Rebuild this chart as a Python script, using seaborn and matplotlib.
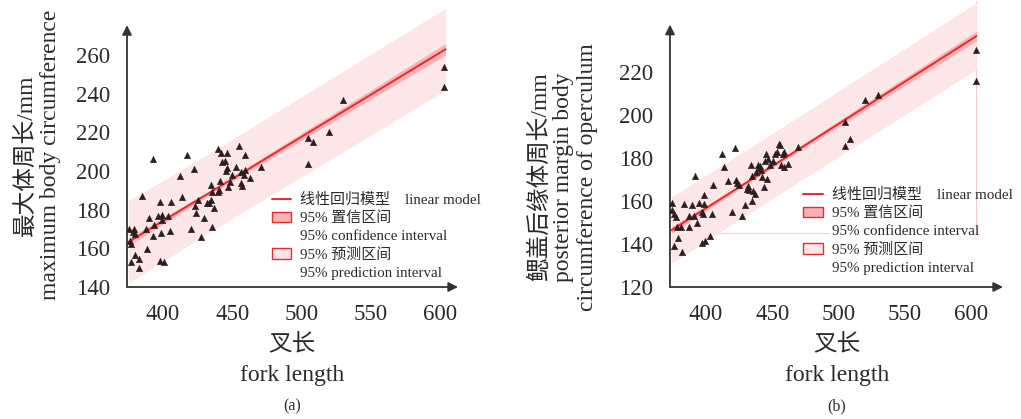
import numpy as np
import pandas as pd
import matplotlib
matplotlib.use("Agg")
import matplotlib.pyplot as plt
from matplotlib.lines import Line2D
from matplotlib.patches import Patch
import seaborn as sns

sns.set_style("white")
plt.rcParams['font.family'] = ['Liberation Serif', 'Noto Sans CJK SC', 'DejaVu Sans']
plt.rcParams['axes.unicode_minus'] = False

# ---------------- data: panel (a) ----------------
fork_a = [375.2, 378.8, 378.0, 380.0, 375.9, 376.6, 379.8, 377.0, 382.7, 383.0,
          384.6, 387.5, 388.4, 390.0, 392.5, 392.5, 393.5, 396.4, 397.6, 398.3,
          398.0, 400.5, 399.5, 399.3, 403.6, 405.3, 406.0, 412.3, 413.7, 417.6,
          420.0, 422.2, 422.9, 423.6, 425.5, 427.5, 429.4, 431.6, 433.0, 434.5,
          434.7, 435.2, 435.4, 436.6, 439.8, 439.5, 440.5, 441.4, 441.9, 442.9,
          444.6, 445.3, 446.0, 446.5, 447.0, 448.2, 450.1, 453.0, 454.5, 456.1,
          456.1, 457.1, 459.5, 459.5, 458.6, 462.7, 470.4, 504.8, 504.8, 508.0,
          519.8, 529.6, 603.1, 603.1]
girth_a = [170.0, 170.2, 168.3, 167.5, 163.7, 162.3, 156.8, 153.0, 154.3, 149.7,
           187.3, 170.0, 159.9, 175.8, 166.4, 206.0, 172.3, 176.6, 184.2, 167.8,
           153.6, 153.0, 177.0, 174.9, 176.6, 169.0, 184.0, 197.3, 186.8, 208.2,
           169.9, 201.0, 182.1, 178.3, 185.0, 165.7, 175.9, 183.7, 183.5, 193.0,
           184.9, 171.3, 189.0, 181.1, 189.2, 211.2, 190.0, 194.9, 209.5, 204.8,
           205.1, 199.8, 209.3, 201.7, 191.8, 194.2, 198.0, 202.3, 212.7, 199.4,
           193.7, 192.2, 208.2, 200.6, 198.2, 196.6, 202.0, 217.0, 203.9, 215.0,
           220.3, 236.7, 254.0, 243.5]
# regression line and bands
band_x_a = [375, 435, 604]
fit_a = [163.3, 189.4, 263.0]
ci_lo_a = [161.3, 188.4, 260.0]
ci_hi_a = [165.3, 190.4, 266.0]
pi_lo_a = [142.1, 169.0, 241.8]
pi_hi_a = [184.5, 209.8, 284.2]

# ---------------- data: panel (b) ----------------
fork_b = [374.3, 374.8, 375.8, 377.3, 375.8, 379.3, 381.9, 378.6, 381.6, 383.9,
          387.0, 387.7, 389.4, 391.9, 391.4, 393.2, 395.2, 396.9, 397.7, 397.5,
          399.0, 399.0, 399.7, 403.0, 405.0, 405.5, 412.1, 413.4, 417.1, 419.9,
          421.7, 422.7, 423.7, 424.7, 427.2, 429.2, 431.0, 431.7, 432.7, 434.8,
          434.8, 434.3, 435.3, 436.8, 438.0, 439.0, 440.0, 440.8, 441.6, 442.6,
          444.1, 444.3, 445.3, 445.8, 446.6, 448.4, 450.9, 452.4, 453.9, 455.4,
          456.2, 456.4, 458.2, 459.0, 459.2, 462.2, 469.8, 504.8, 505.0, 508.3,
          519.9, 529.7, 604.0, 603.8]
girth_b = [158.9, 155.9, 153.8, 152.5, 139.0, 142.6, 136.2, 147.7, 147.7, 158.8,
           153.1, 147.7, 158.0, 171.8, 152.8, 149.7, 159.3, 154.9, 153.8, 140.4,
           158.6, 162.8, 141.5, 143.5, 153.8, 167.6, 181.8, 176.0, 169.3, 155.1,
           184.5, 169.6, 168.5, 167.5, 153.2, 158.2, 165.4, 167.1, 165.1, 160.2,
           171.6, 176.7, 164.8, 163.3, 173.5, 176.7, 175.2, 176.4, 174.4, 171.0,
           166.7, 178.4, 181.7, 170.4, 179.3, 176.9, 178.4, 181.8, 182.6, 186.5,
           186.2, 176.7, 182.0, 182.9, 175.6, 177.3, 184.9, 196.8, 185.7, 188.9,
           207.0, 209.5, 230.4, 215.8]
band_x_b = [374, 435, 604]
fit_b = [146.4, 170.3, 236.7]
ci_lo_b = [144.9, 169.5, 234.4]
ci_hi_b = [147.9, 171.1, 239.0]
pi_lo_b = [130.9, 155.2, 221.2]
pi_hi_b = [161.9, 185.4, 252.2]
# faint guide lines visible in panel (b)
guide_h_x_b = [374, 493]
guide_h_y_b = [145.1, 145.1]
guide_v_x_b = [604, 604]
guide_v_y_b = [145.1, 253]

xticks = [400, 450, 500, 550, 600]
yticks_a = [140, 160, 180, 200, 220, 240, 260]
yticks_b = [120, 140, 160, 180, 200, 220]

legend_labels = ["线性回归模型    linear model", "95% 置信区间", "95% confidence interval",
                 "95% 预测区间", "95% prediction interval"]

RED = "#e8292d"
CI_COL = "#f5b3b5"
PI_COL = "#fde6e7"
PT_COL = "#2b1d20"
AX_COL = "#333333"
TXT_COL = "#2a2a2a"

fig = plt.figure(figsize=(10.21, 4.19), dpi=100)
ax_a = fig.add_axes([0.1244, 0.3150, 0.3242, 0.6735])
ax_b = fig.add_axes([0.6562, 0.3150, 0.3262, 0.6826])


def draw_panel(ax, fx, fy, bx, fit, cil, cih, pil, pih, xlim, ylim, ytop, yticks):
    ax.set_facecolor("none")
    ax.fill_between(bx, pil, pih, color=PI_COL, lw=0, zorder=1)
    ax.fill_between(bx, cil, cih, color=CI_COL, lw=0, zorder=2)
    sns.lineplot(x=bx, y=fit, ax=ax, color=RED, lw=1.4, zorder=3)
    df = pd.DataFrame({"fork": fx, "girth": fy})
    sns.scatterplot(data=df, x="fork", y="girth", ax=ax, marker="^", s=22,
                    color=PT_COL, edgecolor=PT_COL, linewidth=0.3, zorder=4)
    ax.set_xlim(*xlim)
    ax.set_ylim(*ylim)
    for s in ax.spines.values():
        s.set_visible(False)
    ax.annotate("", xy=(xlim[0], ytop), xytext=(xlim[0], ylim[0]),
                xycoords="data", annotation_clip=False,
                arrowprops=dict(arrowstyle="-|>", color=AX_COL, lw=1.3,
                                mutation_scale=14, shrinkA=0, shrinkB=0))
    ax.annotate("", xy=(xlim[1], ylim[0]), xytext=(xlim[0], ylim[0]),
                xycoords="data", annotation_clip=False,
                arrowprops=dict(arrowstyle="-|>", color=AX_COL, lw=1.3,
                                mutation_scale=14, shrinkA=0, shrinkB=0))
    ax.set_xticks(xticks)
    ax.set_yticks(yticks)
    ax.tick_params(axis="both", direction="in", length=4, width=1, color=AX_COL,
                   labelsize=16.5, labelcolor=TXT_COL)
    ax.tick_params(axis="x", pad=12)
    ax.tick_params(axis="y", pad=12)
    ax.set_xlabel("")
    ax.set_ylabel("")
    handles = [Line2D([], [], color=RED, lw=1.4),
               Patch(facecolor=CI_COL, edgecolor=RED, lw=1.0),
               Patch(facecolor="none", edgecolor="none"),
               Patch(facecolor=PI_COL, edgecolor=RED, lw=1.0),
               Patch(facecolor="none", edgecolor="none")]
    return handles


h = draw_panel(ax_a, fork_a, girth_a, band_x_a, fit_a, ci_lo_a, ci_hi_a, pi_lo_a, pi_hi_a,
               (374, 613), (140, 286), 275.5, yticks_a)
fig.legend(h, legend_labels, loc="upper left", bbox_to_anchor=(0.266, 0.540),
           bbox_transform=fig.transFigure, frameon=False, fontsize=10.8,
           handlelength=1.3, handleheight=0.7, handletextpad=0.6,
           labelspacing=0.30, borderpad=0, borderaxespad=0, labelcolor=TXT_COL)

h = draw_panel(ax_b, fork_b, girth_b, band_x_b, fit_b, ci_lo_b, ci_hi_b, pi_lo_b, pi_hi_b,
               (373, 624), (120, 253), 242, yticks_b)
ax_b.plot(guide_h_x_b, guide_h_y_b, color="#f6caca", lw=0.8, zorder=0.5)
ax_b.plot(guide_v_x_b, guide_v_y_b, color="#f6caca", lw=0.8, zorder=0.5, clip_on=False)
fig.legend(h, legend_labels, loc="upper left", bbox_to_anchor=(0.7865, 0.552),
           bbox_transform=fig.transFigure, frameon=False, fontsize=10.8,
           handlelength=1.3, handleheight=0.7, handletextpad=0.6,
           labelspacing=0.30, borderpad=0, borderaxespad=0, labelcolor=TXT_COL)

W, H = 1021, 419


def ftext(x, y, s, **kw):
    fig.text(x / W, 1 - y / H, s, ha="center", va="center", color=TXT_COL, **kw)


# y-axis titles
ftext(38, 155, "最大体周长/mm\nmaximum body circumference", rotation=90,
      fontsize=17, linespacing=1.15, multialignment="center")
ftext(563, 177, "鳃盖后缘体周长/mm\nposterior margin body\ncircumference of operculum",
      rotation=90, fontsize=17, linespacing=1.15, multialignment="center")
# x-axis titles and panel tags
for cx, tag in [(292, "(a)"), (837, "(b)")]:
    ftext(cx, 345, "叉长", fontsize=17)
    ftext(cx, 375, "fork length", fontsize=17)
    ftext(cx, 406, tag, fontsize=11.5)

fig.savefig("out.png", dpi=100)
